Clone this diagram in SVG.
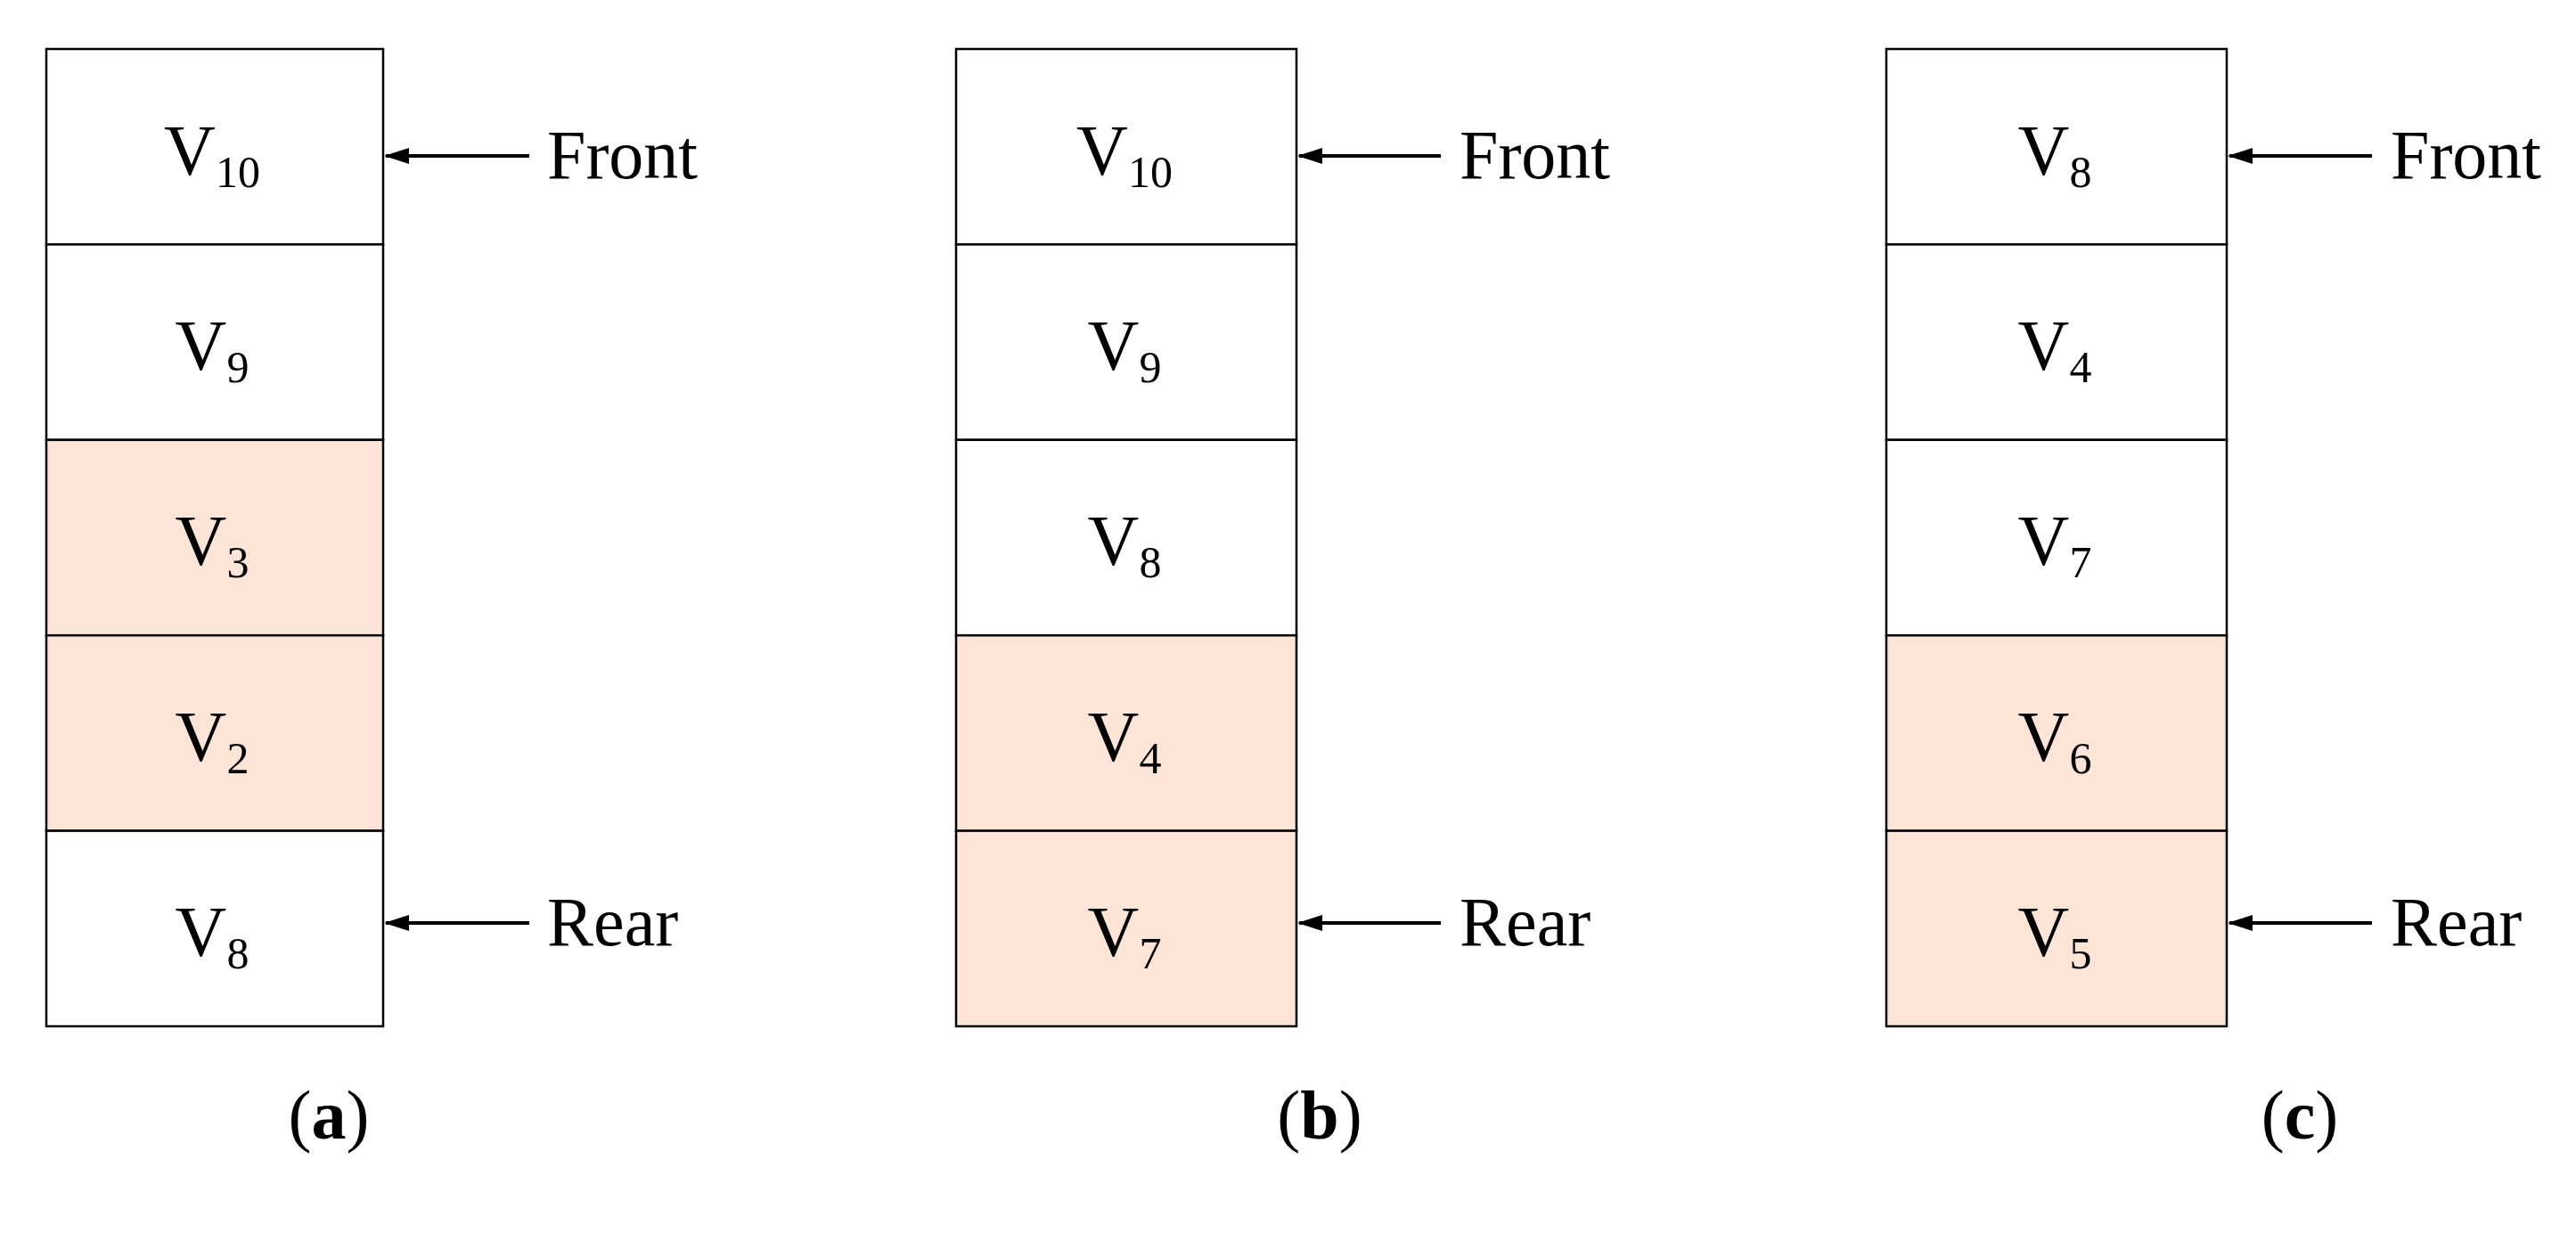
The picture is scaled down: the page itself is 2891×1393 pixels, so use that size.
<svg xmlns="http://www.w3.org/2000/svg" width="2891" height="1393" viewBox="0 0 2891 1393">
<style>
.c{stroke:#000;stroke-width:2.5;fill:#fff}
.h{fill:#fce5d7}
text{font-family:"Liberation Serif",serif;fill:#000}
.v{font-size:80px;text-anchor:middle}
.s{font-size:50px}
.l{font-size:78px}
.a{stroke:#000;stroke-width:4;marker-end:url(#m)}
</style>
<defs><marker id="m" markerWidth="28" markerHeight="18" refX="26" refY="9" orient="auto" markerUnits="userSpaceOnUse" viewBox="0 0 28 18"><path d="M0,0L28,9L0,18z" fill="#000"/></marker></defs>
<rect width="2891" height="1393" fill="#fff"/>
<g id="colA">
<rect class="c" x="52" y="55" width="378" height="219.4"/>
<rect class="c" x="52" y="274.4" width="378" height="219.4"/>
<rect class="c h" x="52" y="493.8" width="378" height="219.4"/>
<rect class="c h" x="52" y="713.2" width="378" height="219.4"/>
<rect class="c" x="52" y="932.6" width="378" height="219.4"/>
<text class="v" x="238" y="196">V<tspan class="s" dy="14">10</tspan></text>
<text class="v" x="238" y="415">V<tspan class="s" dy="14">9</tspan></text>
<text class="v" x="238" y="634">V<tspan class="s" dy="14">3</tspan></text>
<text class="v" x="238" y="854">V<tspan class="s" dy="14">2</tspan></text>
<text class="v" x="238" y="1073">V<tspan class="s" dy="14">8</tspan></text>
</g>
<g id="colB">
<rect class="c" x="1073" y="55" width="382" height="219.4"/>
<rect class="c" x="1073" y="274.4" width="382" height="219.4"/>
<rect class="c" x="1073" y="493.8" width="382" height="219.4"/>
<rect class="c h" x="1073" y="713.2" width="382" height="219.4"/>
<rect class="c h" x="1073" y="932.6" width="382" height="219.4"/>
<text class="v" x="1262" y="196">V<tspan class="s" dy="14">10</tspan></text>
<text class="v" x="1262" y="415">V<tspan class="s" dy="14">9</tspan></text>
<text class="v" x="1262" y="634">V<tspan class="s" dy="14">8</tspan></text>
<text class="v" x="1262" y="854">V<tspan class="s" dy="14">4</tspan></text>
<text class="v" x="1262" y="1073">V<tspan class="s" dy="14">7</tspan></text>
</g>
<g id="colC">
<rect class="c" x="2117" y="55" width="382" height="219.4"/>
<rect class="c" x="2117" y="274.4" width="382" height="219.4"/>
<rect class="c" x="2117" y="493.8" width="382" height="219.4"/>
<rect class="c h" x="2117" y="713.2" width="382" height="219.4"/>
<rect class="c h" x="2117" y="932.6" width="382" height="219.4"/>
<text class="v" x="2306" y="196">V<tspan class="s" dy="14">8</tspan></text>
<text class="v" x="2306" y="415">V<tspan class="s" dy="14">4</tspan></text>
<text class="v" x="2306" y="634">V<tspan class="s" dy="14">7</tspan></text>
<text class="v" x="2306" y="854">V<tspan class="s" dy="14">6</tspan></text>
<text class="v" x="2306" y="1073">V<tspan class="s" dy="14">5</tspan></text>
</g>
<g id="connectors">
<line class="a" x1="594" y1="175" x2="433" y2="175"/>
<line class="a" x1="594" y1="1036" x2="433" y2="1036"/>
<line class="a" x1="1617" y1="175" x2="1458" y2="175"/>
<line class="a" x1="1617" y1="1036" x2="1458" y2="1036"/>
<line class="a" x1="2662" y1="175" x2="2502" y2="175"/>
<line class="a" x1="2662" y1="1036" x2="2502" y2="1036"/>
</g>
<g id="labels">
<text class="l" x="614" y="200">Front</text>
<text class="l" x="614" y="1061">Rear</text>
<text class="l" x="1638" y="200">Front</text>
<text class="l" x="1638" y="1061">Rear</text>
<text class="l" x="2683" y="200">Front</text>
<text class="l" x="2683" y="1061">Rear</text>
<text class="l" x="369" y="1278" text-anchor="middle">(<tspan font-weight="bold">a</tspan>)</text>
<text class="l" x="1481" y="1278" text-anchor="middle">(<tspan font-weight="bold">b</tspan>)</text>
<text class="l" x="2581" y="1278" text-anchor="middle">(<tspan font-weight="bold">c</tspan>)</text>
</g>
</svg>
